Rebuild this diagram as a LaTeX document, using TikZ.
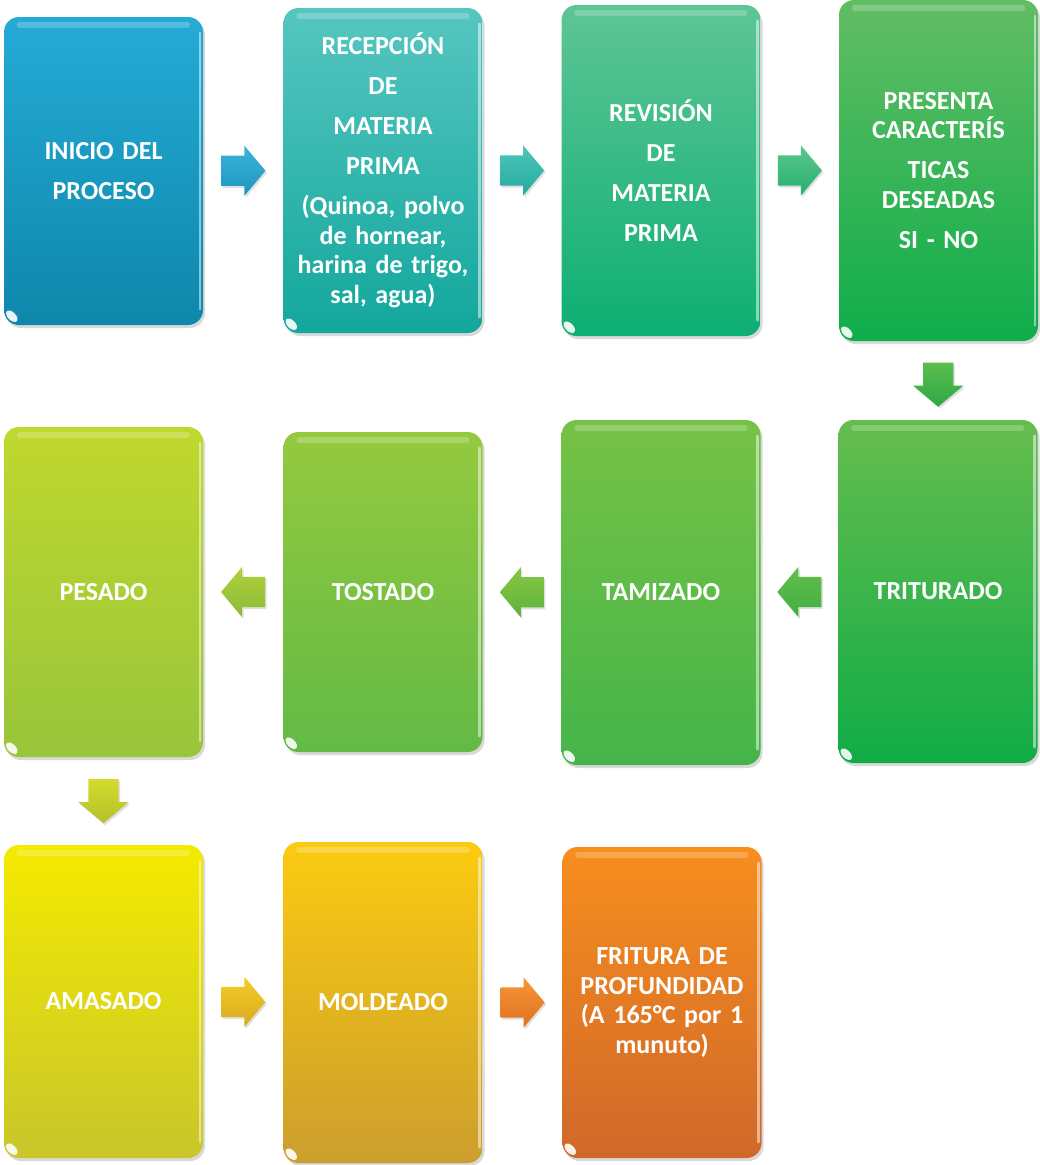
\documentclass[tikz,border=0pt]{standalone}
\usepackage{fontspec}
\setmainfont{Carlito}
\usetikzlibrary{shapes.arrows,shadows,calc}
\definecolor{c1t}{HTML}{24ABD6}\definecolor{c1b}{HTML}{0F87AB}
\definecolor{c2t}{HTML}{56C6C0}\definecolor{c2b}{HTML}{13A79D}
\definecolor{c3t}{HTML}{5EC596}\definecolor{c3b}{HTML}{0DAF73}
\definecolor{c4t}{HTML}{62BD64}\definecolor{c4b}{HTML}{0FAD4B}
\definecolor{c5t}{HTML}{66BD4E}\definecolor{c5b}{HTML}{10AC46}
\definecolor{c6t}{HTML}{76C246}\definecolor{c6b}{HTML}{45B549}
\definecolor{c7t}{HTML}{95C93F}\definecolor{c7b}{HTML}{62BA45}
\definecolor{c8t}{HTML}{C0D82E}\definecolor{c8b}{HTML}{98C53B}
\definecolor{c9t}{HTML}{F5EA00}\definecolor{c9b}{HTML}{C8C62B}
\definecolor{c10t}{HTML}{FBCB10}\definecolor{c10b}{HTML}{CC9E2D}
\definecolor{c11t}{HTML}{F78E1E}\definecolor{c11b}{HTML}{D0682A}
\definecolor{a1t}{HTML}{3BB2DA}\definecolor{a1b}{HTML}{1E97C0}
\definecolor{a2t}{HTML}{50C6BB}\definecolor{a2b}{HTML}{22AA9C}
\definecolor{a3t}{HTML}{5BC790}\definecolor{a3b}{HTML}{27B06E}
\definecolor{a4t}{HTML}{5BBE4E}\definecolor{a4b}{HTML}{2EA844}
\definecolor{a5t}{HTML}{64BE4C}\definecolor{a5b}{HTML}{3FAF41}
\definecolor{a6t}{HTML}{88C743}\definecolor{a6b}{HTML}{5EB23D}
\definecolor{a7t}{HTML}{B0D03A}\definecolor{a7b}{HTML}{8CBB38}
\definecolor{a8t}{HTML}{D2DC2E}\definecolor{a8b}{HTML}{B5C02A}
\definecolor{a9t}{HTML}{F3CE2A}\definecolor{a9b}{HTML}{D7A91E}
\definecolor{a10t}{HTML}{F7963A}\definecolor{a10b}{HTML}{E0701E}
\newcommand{\pbrk}{\\[10.5pt]}
\begin{document}
\begin{tikzpicture}[x=1pt,y=-1pt,
  stepbox/.style n args={3}{rectangle, rounded corners=15pt, inner sep=0pt,
    text width=194pt, align=center, text=white,
    font=\fontsize{26}{29.5}\selectfont\bfseries,
    minimum width=199pt, minimum height=#3, top color=#1, bottom color=#2,
    drop shadow={shadow xshift=2pt, shadow yshift=-3pt, opacity=0.25, fill=black!60}},
  arrbase/.style 2 args={single arrow, top color=#1, bottom color=#2,
    minimum height=44pt, single arrow head extend=10pt, single arrow tip angle=100,
    anchor=tail,
    drop shadow={shadow xshift=1.5pt, shadow yshift=-2pt, opacity=0.2, fill=black!60}},
  rarr/.style 2 args={arrbase={#1}{#2}, shape border rotate=0, inner xsep=0pt, inner ysep=15pt, xshift=-22pt},
  larr/.style 2 args={arrbase={#1}{#2}, shape border rotate=180, inner xsep=0pt, inner ysep=15pt, xshift=22pt},
  darr/.style 2 args={arrbase={#1}{#2}, shape border rotate=270, inner xsep=15pt, inner ysep=0pt, yshift=22pt}]
\useasboundingbox (0,0) rectangle (1040,1165);
% boxes
\node[stepbox={c1t}{c1b}{308pt}] (b1) at (103.5,171) {INICIO DEL\pbrk PROCESO};
\node[stepbox={c2t}{c2b}{325pt}] (b2) at (383,170.5) {RECEPCIÓN\pbrk DE\pbrk MATERIA\pbrk PRIMA\pbrk (Quinoa, polvo\\ de hornear,\\ harina de trigo,\\ sal, agua)};
\node[stepbox={c3t}{c3b}{331pt}] (b3) at (661,170.5) {REVISIÓN\pbrk DE\pbrk MATERIA\pbrk PRIMA};
\node[stepbox={c4t}{c4b}{341pt}] (b4) at (938.5,170.5) {PRESENTA\\ CARACTERÍS\pbrk TICAS\\ DESEADAS\pbrk SI - NO};
\node[stepbox={c5t}{c5b}{343pt}] (b5) at (938,591.5) {TRITURADO};
\node[stepbox={c6t}{c6b}{345pt}] (b6) at (661,592.5) {TAMIZADO};
\node[stepbox={c7t}{c7b}{320pt}] (b7) at (383,592) {TOSTADO};
\node[stepbox={c8t}{c8b}{330pt}] (b8) at (103.5,592) {PESADO};
\node[stepbox={c9t}{c9b}{313pt}] (b9) at (103.5,1001.5) {AMASADO};
\node[stepbox={c10t}{c10b}{321pt}] (b10) at (383,1002.5) {MOLDEADO};
\node[stepbox={c11t}{c11b}{311pt}] (b11) at (662,1002.5) {FRITURA DE\\ PROFUNDIDAD\\ (A 165°C por 1\\ munuto)};
% glossy details
\foreach \n in {b1,b2,b3,b4,b5,b6,b7,b8,b9,b10,b11} {
  \draw[white, opacity=0.22, line width=6pt, line cap=round]
    ([xshift=16pt,yshift=-8pt]\n.north west) -- ([xshift=-16pt,yshift=-8pt]\n.north east);
  \draw[white, opacity=0.5, line width=2.5pt, line cap=round]
    ([xshift=-3pt,yshift=-16pt]\n.north east) -- ([xshift=-3pt,yshift=16pt]\n.south east);
  \fill[white, opacity=0.9, shift={($(\n.south west)+(8,-9)$)}, rotate=-45]
    (0,0) ellipse [x radius=7pt, y radius=4pt];
}
% arrows
\path (b1) -- (b2) node[midway, rarr={a1t}{a1b}] (r1) {};
\path (b2) -- (b3) node[midway, rarr={a2t}{a2b}] (r2) {};
\path (b3) -- (b4) node[midway, rarr={a3t}{a3b}] (r3) {};
\path (b4) -- (b5) node[midway, darr={a4t}{a4b}, yshift=-4pt] (r4) {};
\path (b5) -- (b6) node[midway, larr={a5t}{a5b}] (r5) {};
\path (b6) -- (b7) node[midway, larr={a6t}{a6b}] (r6) {};
\path (b7) -- (b8) node[midway, larr={a7t}{a7b}] (r7) {};
\path (b8) -- (b9) node[midway, darr={a8t}{a8b}] (r8) {};
\path (b9) -- (b10) node[midway, rarr={a9t}{a9b}] (r9) {};
\path (b10) -- (b11) node[midway, rarr={a10t}{a10b}] (r10) {};
\end{tikzpicture}
\end{document}
